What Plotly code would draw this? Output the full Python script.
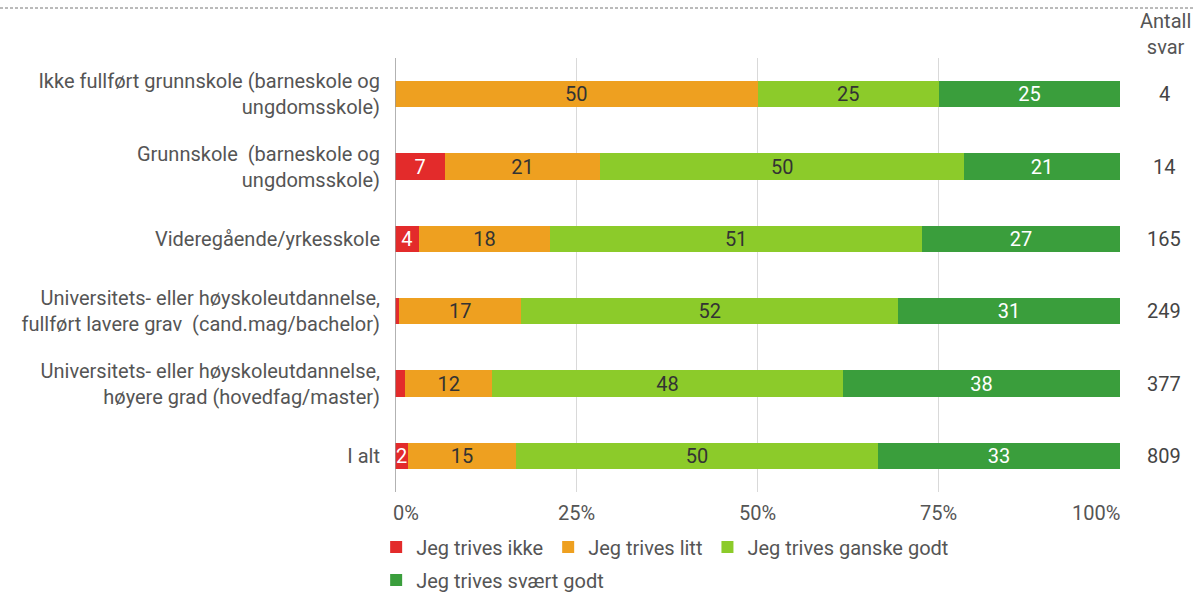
import plotly.graph_objects as go

categories = [
    "Ikke fullført grunnskole (barneskole og<br>ungdomsskole)",
    "Grunnskole  (barneskole og<br>ungdomsskole)",
    "Videregående/yrkesskole",
    "Universitets- eller høyskoleutdannelse,<br>fullført lavere grav  (cand.mag/bachelor)",
    "Universitets- eller høyskoleutdannelse,<br>høyere grad (hovedfag/master)",
    "I alt",
]
series_names = ["Jeg trives ikke", "Jeg trives litt", "Jeg trives ganske godt", "Jeg trives svært godt"]
ikke = [0, 6.9, 3.3, 0.6, 1.4, 1.8]
litt = [50, 21.4, 18.1, 16.8, 12.0, 14.9]
ganske = [25, 50.2, 51.3, 52.0, 48.4, 49.9]
svaert = [25, 21.5, 27.3, 30.6, 38.2, 33.4]
ikke_lbl = ["", "7", "4", "", "", "2"]
litt_lbl = ["50", "21", "18", "17", "12", "15"]
ganske_lbl = ["25", "50", "51", "52", "48", "50"]
svaert_lbl = ["25", "21", "27", "31", "38", "33"]
antall = [4, 14, 165, 249, 377, 809]
xticks = [0, 25, 50, 75, 100]
xtick_labels = ["0%", "25%", "50%", "75%", "100%"]

colors = ["#E32B2B", "#EEA020", "#8CCB2A", "#3A9E3C"]
text_colors = ["#ffffff", "#333333", "#333333", "#ffffff"]
FONT = "Roboto, Open Sans, sans-serif"
FS = 20
GREY = "#555555"

W, H = 1194, 592
ML, MR, MT, MB = 395, 74, 58, 100
PW = W - ML - MR   # 725
PH = H - MT - MB   # 434

fig = go.Figure()
vals = [ikke, litt, ganske, svaert]
lbls = [ikke_lbl, litt_lbl, ganske_lbl, svaert_lbl]
for i, name in enumerate(series_names):
    fig.add_trace(go.Bar(
        y=categories, x=vals[i], name=name, orientation="h",
        marker=dict(color=colors[i], line=dict(width=0)),
        text=lbls[i], textposition="inside", insidetextanchor="middle",
        textangle=0,
        textfont=dict(color=text_colors[i], size=FS, family=FONT),
        constraintext="none",
        legend="legend" if i < 3 else "legend2",
        hoverinfo="skip",
    ))

fig.update_layout(
    barmode="stack",
    bargap=0.64,
    width=W, height=H,
    margin=dict(l=ML, r=MR, t=MT, b=MB, autoexpand=False),
    paper_bgcolor="white", plot_bgcolor="white",
    font=dict(family=FONT, size=FS, color=GREY),
    xaxis=dict(range=[0, 100], tickvals=xticks, showticklabels=False,
               showgrid=True, gridcolor="#d9d9d9", gridwidth=1,
               zeroline=False, showline=False, fixedrange=True),
    yaxis=dict(categoryorder="array", categoryarray=categories, autorange="reversed",
               showline=False, showgrid=False, ticks="", ticklabelstandoff=14,
               tickfont=dict(size=FS, color=GREY, family=FONT)),
    legend=dict(orientation="h", traceorder="normal", x=-0.026, xanchor="left",
                y=-55 / PH, yanchor="middle",
                font=dict(size=FS, color=GREY, family=FONT),
                itemwidth=30, bgcolor="rgba(0,0,0,0)"),
    legend2=dict(orientation="h", traceorder="normal", x=-0.026, xanchor="left",
                 y=-88 / PH, yanchor="middle",
                 font=dict(size=FS, color=GREY, family=FONT),
                 itemwidth=30, bgcolor="rgba(0,0,0,0)"),
    showlegend=True,
)

# zero axis line
fig.add_shape(type="line", xref="x", yref="paper", x0=0, x1=0, y0=0, y1=1,
              line=dict(color="#999999", width=1.5))
# dashed top rule
fig.add_shape(type="line", xref="paper", yref="paper", x0=-ML / PW, x1=1 + MR / PW,
              y0=1 + 50 / PH, y1=1 + 50 / PH,
              line=dict(color="#777777", width=1, dash="3px,2px"))

# x tick labels (outer labels aligned inward)
anchors = ["left", "center", "center", "center", "right"]
shifts = [-4, 0, 0, 0, 2]
for v, t, a, s in zip(xticks, xtick_labels, anchors, shifts):
    fig.add_annotation(x=v, y=0, xref="x", yref="paper", text=t, showarrow=False,
                       xanchor=a, yanchor="top", yshift=-7, xshift=s,
                       font=dict(size=FS, color=GREY, family=FONT))

# Antall svar column
fig.add_annotation(x=1 + 45 / PW, y=1 - 3 / PH, xref="paper", yref="paper",
                   text="Antall<br>svar", showarrow=False, xanchor="center", yanchor="bottom",
                   font=dict(size=FS, color=GREY, family=FONT))
for c, n in zip(categories, antall):
    fig.add_annotation(x=1 + 44 / PW, y=c, xref="paper", yref="y", text=str(n),
                       showarrow=False, xanchor="center", yanchor="middle",
                       font=dict(size=FS, color="#444444", family=FONT))

fig.write_html(
    "out.html",
    config={"displayModeBar": False},
    post_script="document.body.style.margin='0';document.body.style.overflow='hidden';",
)
